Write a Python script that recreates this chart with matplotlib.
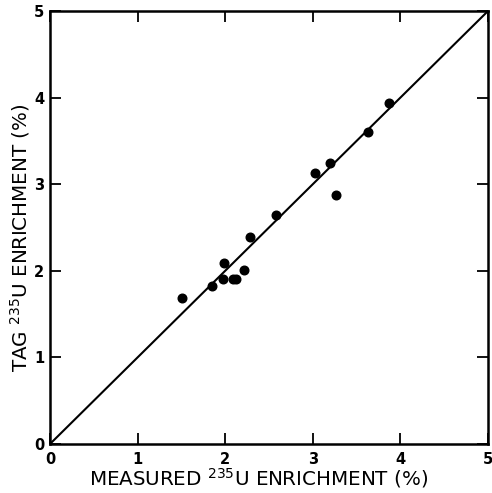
import matplotlib
matplotlib.use("Agg")
import matplotlib.pyplot as plt

# Data
measured = [1.51, 1.85, 1.98, 1.99, 2.09, 2.12, 2.21, 2.28, 2.58, 3.03, 3.20, 3.27, 3.63, 3.87]
tag      = [1.69, 1.82, 1.91, 2.09, 1.91, 1.91, 2.01, 2.39, 2.64, 3.13, 3.24, 2.87, 3.60, 3.94]
line_x = [0, 5]
line_y = [0, 5]
ticks = [0, 1, 2, 3, 4, 5]
tick_labels = ["0", "1", "2", "3", "4", "5"]

plt.rcParams['font.family'] = ['DejaVu Sans']
plt.rcParams['mathtext.default'] = 'regular'

fig = plt.figure(figsize=(4.92, 4.93), dpi=100)
ax = fig.add_axes([0.1016, 0.0994, 0.8903, 0.8783])

ax.plot(line_x, line_y, color='black', lw=1.5, zorder=2)
ax.plot(measured, tag, 'o', color='black', markersize=6.2, zorder=3)

ax.set_xlim(0, 5)
ax.set_ylim(0, 5)
ax.set_xticks(ticks)
ax.set_yticks(ticks)
ax.set_xticklabels(tick_labels, fontsize=10.5, fontweight='bold')
ax.set_yticklabels(tick_labels, fontsize=10.5, fontweight='bold')
ax.tick_params(direction='in', length=8, width=1.3, top=True, right=True,
               labeltop=False, labelright=False)
ax.tick_params(axis='x', pad=6)
ax.tick_params(axis='y', pad=4)
for s in ax.spines.values():
    s.set_linewidth(1.8)

ax.set_xlabel(r'MEASURED $^{235}$U ENRICHMENT (%)', fontsize=14.3)
ax.set_ylabel(r'TAG $^{235}$U ENRICHMENT (%)', fontsize=14.3)
ax.xaxis.set_label_coords(0.475, -0.052)
ax.yaxis.set_label_coords(-0.042, 0.477)

fig.savefig('out.png', dpi=100)
